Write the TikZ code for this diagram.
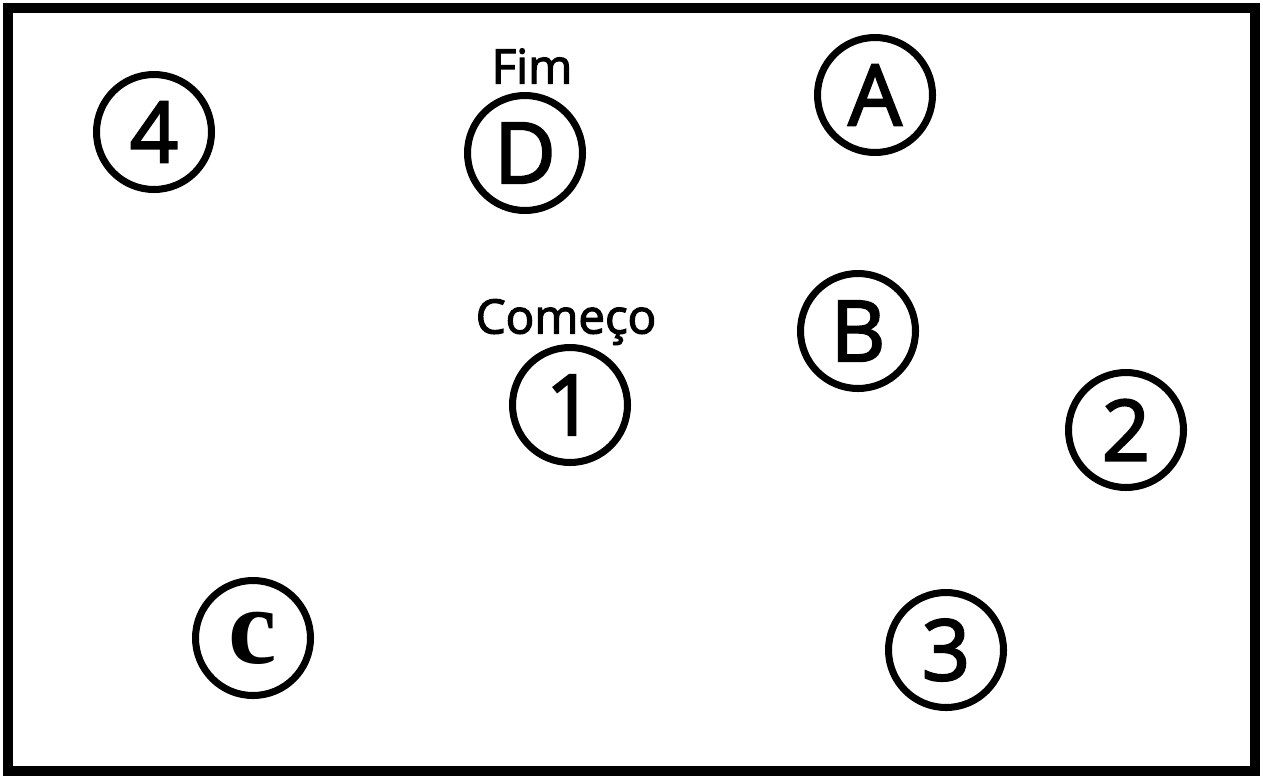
\documentclass[tikz,border=0pt]{standalone}
\usepackage{fontspec}
\setmainfont{Open Sans}
\newfontfamily\heavysans[FakeBold=2.6]{Open Sans}
\newfontfamily\serifc{Liberation Serif}

\begin{document}
\begin{tikzpicture}[
    x=0.02cm, y=-0.02cm,
    spot/.style={circle, draw, line width=4pt, minimum size=2.3cm, inner sep=0pt, text centered, font=\fontsize{48}{48}\selectfont\heavysans},
    tag/.style={inner sep=0pt, font=\fontsize{27}{27}\selectfont\heavysans}
]

\useasboundingbox (0,0) rectangle (1263,778);
\draw[line width=5.5pt] (8,8) rectangle (1255,771);

\node[spot] (p4) at (154, 132) {4};
\node[spot] (d) at (525, 153) {D};
\node[spot] (a) at (875, 95) {A};
\node[spot] (b) at (858, 331) {B};
\node[spot] (p1) at (570, 405) {1};
\node[spot] (p2) at (1126, 430) {2};
\node[spot, font=\fontsize{62}{62}\selectfont\serifc\bfseries] (c) at (253, 638) {c};
\node[spot] (p3) at (946, 650) {3};

\node[tag] (fim) at (532, 66) {Fim};
\node[tag] (comeco) at (566, 322) {Começo};

\end{tikzpicture}
\end{document}
